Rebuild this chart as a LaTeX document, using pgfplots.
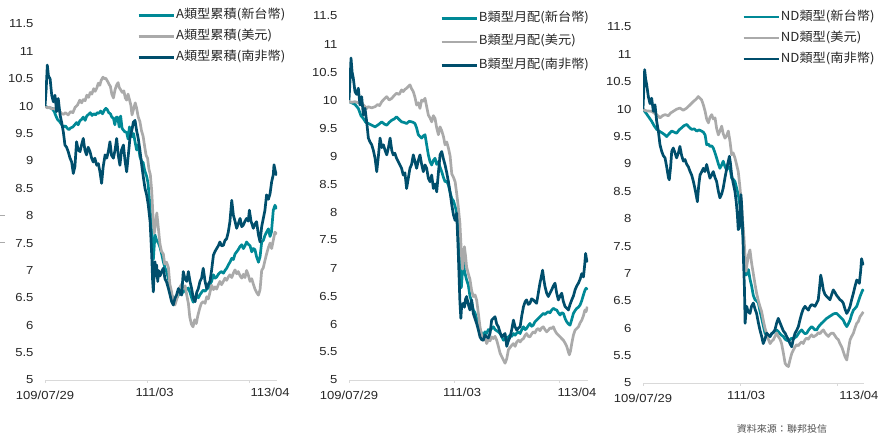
\documentclass[border=0pt]{standalone}
\usepackage{fontspec}
\setmainfont{Liberation Sans}[FakeStretch=1.12]
\newfontfamily\cjk{Noto Sans CJK TC}[FakeStretch=1.06]
\usepackage{pgfplots}
\pgfplotsset{compat=1.18}

\definecolor{cTWD}{RGB}{0,137,150}
\definecolor{cUSD}{RGB}{170,170,170}
\definecolor{cZAR}{RGB}{0,78,108}
\definecolor{axisgray}{RGB}{217,217,217}

\pgfplotsset{
  navpanel/.style={
    scale only axis,
    anchor=south west,
    xmin=0, xmax=100, ymin=5, ymax=11.5,
    axis lines*=left,
    x axis line style={draw=axisgray, line width=0.8bp},
    y axis line style={draw=none},
    ytick distance=0.5,
    ytick style={draw=none},
    xtick={0,44,88},
    xticklabels={109/07/29,,},
    xtick style={draw=axisgray, line width=0.8bp},
    tick align=outside,
    major tick length=3bp,
    extra x tick style={major tick length=0pt},
    extra x tick labels={111/03,113/04},
    /pgf/number format/assume math mode=true,
    tick label style={font=\fontsize{11.7}{13}\selectfont, text=black!85},
    yticklabel style={xshift=-5bp},
    xticklabel style={yshift=-5bp},
    legend cell align=left,
    legend style={draw=none, fill=none, inner sep=0pt,
      font=\cjk\fontsize{12.5}{14}\selectfont, text=black!85,
      nodes={inner sep=1bp, text height=9bp, text depth=3bp}},
    legend image code/.code={\draw[#1] (0bp,0bp) -- (35bp,0bp);},
    every axis plot/.append style={line width=2.7bp, line join=round},
  },
}

\begin{document}
\begin{tikzpicture}
\useasboundingbox (0,0) rectangle (885bp,436bp);

% ---------------- A 類型累積 ----------------
\begin{axis}[navpanel, at={(45bp,56bp)}, width=232bp, height=356bp,
  extra x ticks={47.3,97},
  legend style={at={(0.397,1.045)}, anchor=north west, row sep=7bp}]
\addplot[cTWD] coordinates {
(0,10.00)(1,9.98)(2,9.97)(3,9.96)(4,9.9)(4.7,9.82)(5.5,9.75)(6.3,9.72)(7.2,9.66)(8,9.62)(8.8,9.64)(9.5,9.6)(10.3,9.57)(11,9.6)(12,9.62)(12.8,9.66)(13.6,9.7)(14.3,9.66)(15,9.73)(15.8,9.76)(16.5,9.8)(17.3,9.74)(18,9.82)(18.8,9.85)(19.5,9.88)(20.3,9.83)(21,9.86)(21.8,9.84)(22.5,9.88)(23.2,9.87)(24,9.91)(24.8,9.86)(25.5,9.92)(26.2,9.96)(26.8,9.94)(27.5,9.88)(28.2,9.86)(28.8,9.8)(29.5,9.78)(30.1,9.66)(30.7,9.8)(31.3,9.8)(32,9.62)(32.6,9.82)(33.2,9.6)(33.8,9.56)(34.5,9.53)(35.2,9.52)(35.8,9.4)(36.4,9.62)(37,9.5)(37.6,9.44)(38.2,9.5)(38.8,9.35)(39.5,9.2)(40.2,9.3)(40.9,9.08)(41.6,9.0)(42.3,8.97)(43,8.82)(43.8,8.72)(44.4,8.6)(45,8.3)(45.6,7.95)(46.2,7.5)(46.7,7.2)(47.4,7.65)(48.1,7.55)(48.9,7.5)(49.6,7.42)(50.3,7.3)(51,7.16)(51.7,7.05)(52.4,6.98)(53.2,6.85)(53.9,6.67)(54.6,6.55)(55.3,6.49)(56,6.43)(56.8,6.5)(57.5,6.55)(58.2,6.58)(58.9,6.62)(59.6,6.6)(60.4,6.66)(61.1,6.65)(61.8,6.68)(62.5,6.6)(63.2,6.5)(63.9,6.42)(64.7,6.5)(65.4,6.55)(66.1,6.5)(66.8,6.56)(67.5,6.6)(68.2,6.64)(69,6.62)(69.7,6.66)(70.4,6.68)(71.1,6.75)(71.8,6.8)(72.6,6.92)(73.3,6.86)(74,6.88)(74.7,6.93)(75.4,6.96)(76.1,6.98)(76.9,6.95)(77.6,7.0)(78.3,7.04)(79,7.1)(79.7,7.15)(80.5,7.22)(81.2,7.2)(81.9,7.3)(82.6,7.34)(83.3,7.38)(84.1,7.44)(84.8,7.47)(85.5,7.4)(86.2,7.45)(86.9,7.52)(87.6,7.48)(88.4,7.45)(89.1,7.34)(89.8,7.4)(90.5,7.38)(91.2,7.25)(92,7.15)(92.7,7.25)(93.4,7.52)(94.1,7.55)(94.8,7.64)(95.5,7.7)(96.3,7.76)(97,7.62)(97.6,7.7)(98.4,8.1)(99.1,8.19)(99.9,8.12)
};
\addlegendentry{A類型累積(新台幣)}
\addplot[cUSD] coordinates {
(0,10.00)(1,9.97)(2,9.98)(3,9.95)(4,9.96)(5,9.92)(5.8,9.94)(7,9.87)(8,9.85)(8.8,9.88)(10,9.84)(11,9.9)(12,9.88)(13,9.98)(14,10.02)(15,10.11)(15.8,10.06)(16.5,10.12)(17.3,10.1)(18,10.2)(18.8,10.16)(19.5,10.25)(20.2,10.22)(21,10.32)(21.6,10.27)(22.3,10.33)(23,10.42)(23.6,10.38)(24.2,10.47)(25,10.53)(25.6,10.5)(26.2,10.51)(27,10.45)(27.6,10.4)(28.2,10.36)(28.8,10.22)(29.5,10.15)(30.2,10.3)(30.8,10.38)(31.5,10.43)(32,10.34)(32.6,10.3)(33.3,10.25)(34,10.28)(34.6,10.15)(35.2,10.11)(35.8,10.22)(36.4,10.12)(37,10.02)(37.5,9.84)(38.2,9.95)(38.9,10.06)(39.5,9.96)(40.2,9.8)(40.9,9.72)(41.6,9.55)(42.3,9.45)(43,9.25)(43.6,9.1)(44.2,9.05)(44.8,8.85)(45.4,8.75)(46,8.45)(46.6,7.95)(47.1,7.68)(47.6,7.85)(48.2,8.05)(48.8,7.8)(49.5,7.5)(50.2,7.35)(51,7.3)(51.6,7.12)(52.4,7.15)(53.2,7.05)(53.8,6.75)(54.5,6.62)(55.2,6.45)(56,6.37)(56.8,6.48)(57.5,6.6)(58.2,6.7)(58.9,6.75)(59.6,6.67)(60.4,6.72)(61.1,6.55)(61.8,6.4)(62.4,6.15)(63.1,6.02)(63.8,5.97)(64.5,6.1)(65.2,6.03)(65.9,6.18)(66.7,6.31)(67.4,6.4)(68.2,6.43)(69,6.4)(69.7,6.52)(70.4,6.48)(71.1,6.6)(71.8,6.73)(72.6,6.65)(73.3,6.7)(74,6.66)(74.7,6.74)(75.4,6.8)(76.1,6.74)(76.9,6.8)(77.6,6.86)(78.3,6.82)(79,6.88)(79.7,6.92)(80.5,6.87)(81.2,6.95)(81.9,7.01)(82.6,6.94)(83.3,6.98)(84.1,6.9)(84.8,6.86)(85.5,6.93)(86.2,6.87)(86.9,7.0)(87.6,6.92)(88.4,6.8)(89.1,6.85)(89.8,6.75)(90.5,6.66)(91.2,6.6)(92,6.55)(92.7,6.65)(93.4,7.0)(94.1,7.05)(94.8,7.18)(95.5,7.3)(96.3,7.42)(97,7.5)(97.7,7.4)(98.4,7.55)(99.1,7.7)(99.9,7.66)
};
\addlegendentry{A類型累積(美元)}
\addplot[cZAR] coordinates {
(0,10.0)(0.5,10.3)(1.0,10.75)(1.5,10.55)(2.2,10.5)(2.9,10.2)(3.6,10.08)(4.3,10.2)(5.0,9.9)(5.7,10.14)(6.5,9.84)(7.2,9.7)(7.9,9.53)(8.6,9.29)(9.3,9.25)(10,9.17)(10.8,9.05)(11.5,8.98)(12.2,8.77)(12.9,8.9)(13.6,9.35)(14.3,9.2)(15.1,9.17)(15.8,9.3)(16.5,9.41)(17.2,9.2)(17.9,9.11)(18.6,9.25)(19.4,9.17)(20.1,9.05)(20.8,8.98)(21.5,9.05)(22.3,8.92)(23,8.95)(23.7,8.8)(24.4,8.59)(25.1,8.9)(25.9,9.11)(26.6,9.05)(27.3,9.17)(28,9.35)(28.7,9.1)(29.5,9.05)(30.2,9.2)(30.9,9.41)(31.6,9.1)(32.3,8.92)(33,9.2)(33.8,9.29)(34.5,9.0)(35.2,8.8)(35.9,9.1)(36.6,9.41)(37.4,9.55)(38.1,9.71)(38.8,9.74)(39.5,9.55)(40.2,9.41)(40.9,9.2)(41.7,8.92)(42.4,8.7)(43.1,8.5)(43.8,8.38)(44.5,8.2)(45.3,7.89)(46,7.28)(46.4,6.8)(46.7,6.61)(47.1,7.0)(47.4,7.16)(47.8,6.9)(48.1,7.1)(48.6,6.8)(48.9,7.0)(49.6,6.9)(50.3,6.98)(51,7.04)(51.7,6.85)(52.4,6.79)(53.2,6.67)(53.9,6.55)(54.6,6.43)(55.3,6.37)(56,6.49)(56.7,6.55)(57.5,6.67)(58.2,6.6)(58.9,6.55)(59.6,6.98)(60.3,6.85)(61.1,6.8)(61.8,6.98)(62.5,6.8)(63.2,6.67)(63.9,6.5)(64.7,6.43)(65.4,6.6)(66.1,6.67)(66.8,6.8)(67.5,6.86)(68.2,7.04)(69,6.8)(69.7,6.67)(70.4,6.75)(71.1,6.8)(71.8,7.0)(72.6,7.28)(73.3,7.35)(74,7.4)(74.7,7.45)(75.4,7.52)(76.1,7.45)(76.9,7.46)(77.6,7.55)(78.3,7.58)(79,7.7)(79.7,7.89)(80.5,8.28)(81.2,8.01)(81.9,7.9)(82.6,7.77)(83.3,7.85)(84.1,7.95)(84.8,7.8)(85.5,7.83)(86.2,7.9)(86.9,7.95)(87.6,7.9)(88.1,8.1)(88.8,7.9)(89.8,7.77)(90.5,7.85)(91.2,7.89)(92,7.65)(92.7,7.52)(93.4,7.8)(94.1,7.95)(94.8,8.1)(95.5,8.38)(96.3,8.3)(97,8.4)(97.7,8.62)(98.4,8.75)(98.7,8.93)(99.1,8.85)(99.6,8.75)(99.9,8.8)
};
\addlegendentry{A類型累積(南非幣)}
\end{axis}

% ---------------- B 類型月配 ----------------
\begin{axis}[navpanel, at={(349bp,56bp)}, width=239bp, height=364bp,
  extra x ticks={47.3,95.4},
  legend style={at={(0.381,1.013)}, anchor=north west, row sep=9.5bp}]
\addplot[cTWD] coordinates {
(0,9.97)(1.2,9.95)(2.5,9.92)(3.9,9.85)(5,9.72)(6,9.67)(7,9.6)(8.1,9.58)(9.5,9.55)(10.9,9.52)(12.3,9.56)(13.7,9.61)(14.8,9.57)(15.8,9.55)(16.8,9.6)(17.9,9.64)(18.9,9.66)(19.9,9.7)(21,9.65)(22,9.61)(23,9.6)(24.1,9.58)(25.2,9.62)(26.2,9.61)(26.9,9.6)(27.6,9.58)(28.3,9.5)(29,9.38)(29.7,9.35)(30.4,9.32)(31.1,9.36)(31.8,9.38)(32.5,9.2)(33.2,9.02)(33.9,8.9)(34.6,8.84)(35.3,8.92)(36,8.96)(36.7,8.85)(37.4,8.9)(38.1,8.8)(38.8,8.72)(39.5,8.62)(40.2,8.54)(40.9,8.55)(41.6,8.48)(42.3,8.35)(43,8.24)(43.7,8.2)(44.4,8.1)(45,8.0)(45.7,7.8)(46.4,7.3)(47,6.65)(47.8,7.14)(48.3,6.95)(49.2,6.79)(49.9,6.7)(50.6,6.5)(51.3,6.4)(52,6.25)(52.7,6.2)(53.4,6.1)(54.1,6.02)(54.8,5.9)(55.5,5.83)(56.2,5.8)(56.9,5.86)(57.6,5.83)(58.3,5.9)(59,5.88)(59.7,5.92)(60.4,5.95)(61.1,5.9)(61.8,5.88)(62.5,5.86)(63.2,5.83)(63.9,5.78)(64.6,5.71)(65.3,5.74)(66,5.72)(66.7,5.77)(67.4,5.8)(68.1,5.78)(68.8,5.83)(69.5,5.8)(70.2,5.84)(70.9,5.86)(71.6,5.83)(72.3,5.9)(73,5.95)(73.7,5.9)(74.3,5.92)(75,5.97)(75.7,6.01)(76.4,5.96)(77.1,5.98)(77.8,6.04)(78.5,6.07)(79.2,6.1)(79.9,6.13)(80.6,6.16)(81.3,6.19)(82,6.17)(82.7,6.2)(83.4,6.22)(84.1,6.2)(84.8,6.25)(85.5,6.28)(86.2,6.26)(86.9,6.25)(87.6,6.2)(88.3,6.16)(89,6.2)(89.7,6.19)(90.4,6.1)(91.1,6.04)(91.8,6.0)(92.5,5.98)(93.2,6.08)(93.9,6.19)(94.6,6.24)(95.3,6.28)(96,6.3)(96.7,6.34)(97.4,6.42)(98.1,6.52)(98.7,6.6)(99.2,6.64)(99.7,6.61)
};
\addlegendentry{B類型月配(新台幣)}
\addplot[cUSD] coordinates {
(0,9.97)(1.2,9.96)(2.5,9.97)(3.8,9.95)(5.3,9.94)(6.3,9.9)(7.4,9.85)(8.1,9.88)(9.5,9.86)(10.9,9.88)(12,9.92)(12.8,9.9)(13.7,9.97)(14.8,10.02)(15.8,10.06)(16.8,10.0)(17.9,10.03)(18.9,10.08)(19.9,10.12)(21,10.1)(22,10.18)(22.7,10.15)(23.4,10.19)(24.1,10.21)(24.8,10.24)(25.5,10.27)(26.2,10.2)(26.9,10.15)(27.6,10.05)(28.3,9.91)(29,9.95)(29.7,9.85)(30.4,10.0)(31.1,9.98)(31.8,10.03)(32.5,9.88)(33.2,9.73)(33.9,9.68)(34.6,9.61)(35.3,9.72)(36,9.67)(36.7,9.5)(37.4,9.38)(38.1,9.52)(38.8,9.45)(39.5,9.35)(40.2,9.2)(40.9,9.25)(41.6,9.14)(42.3,9.0)(43,8.68)(43.7,8.62)(44.4,8.54)(45,8.35)(45.7,8.1)(46.4,7.8)(47.1,7.2)(47.5,6.98)(48.3,7.38)(48.8,7.2)(49.2,7.02)(49.9,6.9)(50.6,6.8)(51.3,6.6)(52,6.49)(52.7,6.52)(53.4,6.43)(54.1,6.2)(54.8,5.95)(55.5,5.8)(56.2,5.71)(56.9,5.75)(57.6,5.65)(58.3,5.72)(59,5.7)(59.7,5.77)(60.4,5.74)(61.1,5.78)(61.8,5.71)(62.5,5.6)(63.2,5.48)(63.9,5.42)(64.6,5.36)(65.3,5.3)(66,5.38)(66.7,5.54)(67.4,5.58)(68.1,5.62)(68.8,5.65)(69.5,5.6)(70.2,5.68)(70.9,5.71)(71.6,5.68)(72.3,5.72)(73,5.74)(73.7,5.8)(74.3,5.83)(75,5.78)(75.7,5.77)(76.4,5.82)(77.1,5.86)(77.8,5.84)(78.5,5.9)(79.2,5.92)(79.9,5.88)(80.6,5.93)(81.3,5.95)(82,5.9)(82.7,5.86)(83.4,5.89)(84.1,5.93)(84.8,5.92)(85.5,5.95)(86.2,5.88)(86.9,5.83)(87.6,5.8)(88.3,5.77)(89,5.74)(89.7,5.71)(90.4,5.66)(91.1,5.6)(91.8,5.5)(92.2,5.45)(92.7,5.52)(93.2,5.65)(93.9,5.8)(94.6,5.89)(95.3,5.92)(96,5.95)(96.7,6.02)(97.4,6.07)(98.1,6.15)(98.7,6.25)(99.2,6.22)(99.7,6.31)
};
\addlegendentry{B類型月配(美元)}
\addplot[cZAR] coordinates {
(0,10.0)(0.5,10.4)(0.84,10.75)(1.3,10.5)(1.8,10.39)(2.5,10.15)(3.2,10.1)(3.9,10.21)(4.6,9.91)(5.3,10.06)(6,9.73)(6.7,9.85)(7.4,9.61)(8.1,9.32)(8.8,9.25)(9.5,9.2)(10.2,9.1)(10.9,8.96)(11.6,8.72)(12.3,9.0)(13,9.32)(13.7,9.15)(14.4,9.2)(15.1,9.1)(15.8,9.02)(16.5,9.15)(17.2,9.32)(17.9,9.1)(18.5,9.02)(19.2,9.05)(19.9,8.96)(20.6,8.9)(21.3,8.84)(22,8.78)(22.7,8.66)(23.4,8.7)(24.1,8.42)(24.8,8.6)(25.5,8.78)(26.2,8.85)(26.9,9.02)(27.6,8.9)(28.3,8.78)(29,8.92)(29.7,9.02)(30.4,8.85)(31.1,8.72)(31.8,8.84)(32.5,8.78)(33.2,8.6)(33.9,8.54)(34.6,8.66)(35.3,8.42)(36,8.5)(36.7,8.36)(37.4,8.7)(38.1,9.02)(38.8,9.08)(39.5,8.95)(40.2,8.84)(40.9,8.7)(41.6,8.54)(42.3,8.35)(43,8.13)(43.7,7.95)(44.4,7.85)(45.05,7.98)(45.7,7.3)(46.4,6.4)(46.8,6.1)(47.1,6.3)(47.8,6.37)(48.3,6.3)(48.8,6.45)(49.2,6.49)(49.9,6.35)(50.6,6.25)(51.3,6.43)(52,6.19)(52.7,6.1)(53.4,6.01)(54.1,5.9)(54.8,5.77)(55.5,5.72)(56.2,5.71)(56.9,5.8)(57.6,5.77)(58.3,5.75)(59,5.83)(59.7,6.07)(60.4,6.1)(61.1,6.13)(61.8,6.0)(62.5,5.95)(63.2,5.85)(63.9,5.77)(64.6,5.8)(65.3,5.83)(66,5.6)(66.7,5.7)(67.4,5.77)(68.1,5.9)(68.8,6.07)(69.5,5.95)(70.2,5.89)(70.9,5.93)(71.6,5.95)(72.3,6.15)(73,6.31)(73.7,6.4)(74.3,6.43)(75,6.35)(75.7,6.37)(76.4,6.45)(77.1,6.43)(77.8,6.4)(78.5,6.37)(79.2,6.55)(79.9,6.73)(80.5,6.85)(81,6.96)(81.5,6.8)(82,6.67)(82.7,6.55)(83.4,6.49)(84.1,6.55)(84.8,6.61)(85.5,6.68)(86.2,6.73)(86.9,6.55)(87.6,6.43)(88.3,6.5)(89,6.55)(89.7,6.4)(90.4,6.31)(91.1,6.28)(91.8,6.25)(92.5,6.35)(93.2,6.43)(93.9,6.5)(94.6,6.61)(95.3,6.68)(96,6.73)(96.7,6.8)(97.4,6.9)(98.1,6.84)(98.6,7.05)(99,7.26)(99.4,7.15)(99.7,7.1)
};
\addlegendentry{B類型月配(南非幣)}
\end{axis}

% ---------------- ND 類型 ----------------
\begin{axis}[navpanel, at={(643bp,53bp)}, width=221bp, height=356bp,
  extra x ticks={46.7,97.7},
  legend style={at={(0.448,1.048)}, anchor=north west, row sep=7bp}]
\addplot[cTWD] coordinates {
(0,10.0)(1.5,9.92)(2.7,9.85)(3.9,9.78)(5,9.7)(6.2,9.63)(7.3,9.6)(8.5,9.57)(9.6,9.54)(10.7,9.5)(11.8,9.55)(13,9.6)(14.1,9.58)(15.2,9.56)(16.3,9.62)(17.5,9.66)(18.6,9.7)(19.8,9.72)(20.9,9.67)(22,9.63)(23.2,9.64)(24.3,9.6)(25.4,9.62)(26.5,9.6)(27.3,9.58)(28.1,9.53)(28.8,9.35)(29.6,9.36)(30.3,9.32)(31.1,9.33)(31.8,9.29)(32.6,9.2)(33.3,9.11)(34.1,9.0)(34.8,8.92)(35.6,8.98)(36.3,9.05)(37.1,8.95)(37.9,8.89)(38.6,8.95)(39.4,8.92)(40.1,8.74)(40.8,8.72)(41.6,8.68)(42.4,8.55)(43.1,8.44)(43.8,8.25)(44.6,8.01)(45.1,7.75)(45.7,7.46)(46.2,7.15)(46.6,6.97)(47.1,7.0)(47.7,7.07)(48.4,6.9)(49.2,6.76)(49.9,6.6)(50.7,6.52)(51.4,6.5)(52.2,6.46)(52.9,6.32)(53.7,6.18)(54.4,6.05)(55.2,5.91)(55.9,5.88)(56.7,5.84)(57.5,5.85)(58.2,5.9)(59,5.92)(59.7,5.95)(60.5,5.97)(61.2,5.94)(62,5.9)(62.7,5.87)(63.5,5.85)(64.3,5.8)(65,5.78)(65.8,5.77)(66.5,5.79)(67.3,5.82)(68,5.8)(68.8,5.83)(69.5,5.85)(70.3,5.9)(71,5.94)(71.8,5.97)(72.5,5.93)(73.3,5.9)(74.1,5.91)(74.8,5.96)(75.6,6.0)(76.3,6.03)(77.1,6.0)(77.8,5.97)(78.6,5.97)(79.3,6.02)(80.1,6.06)(80.8,6.09)(81.6,6.12)(82.3,6.15)(83.1,6.18)(83.9,6.2)(84.6,6.22)(85.4,6.24)(86.1,6.26)(86.9,6.27)(87.6,6.27)(88.4,6.24)(89.1,6.21)(89.9,6.18)(90.6,6.15)(91.4,6.08)(92.2,6.03)(92.9,6.08)(93.7,6.15)(94.4,6.25)(95.2,6.33)(95.9,6.36)(96.7,6.4)(97.4,6.48)(98.2,6.58)(98.9,6.65)(99.4,6.7)(99.7,6.67)
};
\addlegendentry{ND類型(新台幣)}
\addplot[cUSD] coordinates {
(0,9.99)(1.5,9.97)(3.9,9.96)(5,9.93)(6.2,9.9)(7.7,9.84)(8.8,9.88)(10,9.9)(11.5,9.88)(12.5,9.93)(13.7,9.96)(15.2,10.0)(16.7,10.02)(18.2,9.98)(19.8,10.02)(21.3,10.08)(22.8,10.14)(24,10.18)(25,10.23)(25.8,10.2)(26.5,10.17)(27.3,10.08)(28.1,9.96)(28.8,9.82)(29.6,9.75)(30.3,9.85)(31.1,9.9)(31.8,9.82)(32.6,9.84)(33.3,9.65)(34.1,9.53)(34.8,9.6)(35.6,9.69)(36.3,9.55)(37.1,9.47)(37.9,9.52)(38.6,9.6)(39.4,9.4)(40.1,9.17)(40.8,9.2)(41.6,9.11)(42.4,8.98)(43.1,8.86)(43.8,8.6)(44.6,8.25)(45.1,7.95)(45.7,7.65)(46.2,7.3)(46.6,7.04)(47.2,7.2)(47.7,7.34)(48.4,7.43)(49.1,7.2)(49.9,7.0)(50.7,6.8)(51.4,6.64)(52.2,6.5)(52.9,6.4)(53.7,6.3)(54.4,6.15)(55.2,6.0)(55.9,5.91)(56.7,5.8)(57.5,5.72)(58.2,5.76)(59,5.79)(59.7,5.85)(60.5,5.91)(61.2,5.85)(62,5.8)(62.7,5.72)(63.5,5.55)(64.3,5.36)(65,5.32)(65.8,5.3)(66.5,5.42)(67.3,5.54)(68,5.6)(68.8,5.66)(69.5,5.7)(70.3,5.68)(71,5.72)(71.8,5.75)(72.5,5.72)(73.3,5.79)(74.1,5.82)(74.8,5.8)(75.6,5.85)(76.3,5.88)(77.1,5.84)(77.8,5.86)(78.6,5.88)(79.3,5.92)(80.1,5.9)(80.8,5.94)(81.6,5.97)(82.3,5.92)(83.1,5.88)(83.9,5.85)(84.6,5.89)(85.4,5.91)(86.1,5.91)(86.9,5.86)(87.6,5.82)(88.4,5.79)(89.1,5.72)(89.9,5.66)(90.6,5.58)(91.4,5.48)(92.2,5.42)(92.9,5.6)(93.7,5.79)(94.4,5.85)(95.2,5.91)(95.9,6.0)(96.7,6.09)(97.4,6.12)(98.2,6.21)(98.9,6.25)(99.7,6.3)
};
\addlegendentry{ND類型(美元)}
\addplot[cZAR] coordinates {
(0,10.0)(0.4,10.4)(0.75,10.72)(1.2,10.55)(1.66,10.45)(2.41,10.23)(3.17,10.1)(3.92,10.2)(4.68,9.96)(5.43,10.08)(6.18,9.78)(6.94,9.6)(7.69,9.35)(8.45,9.23)(9.2,9.15)(9.96,9.11)(10.7,8.95)(11.5,8.75)(11.9,8.71)(12.5,8.95)(13,9.23)(13.7,9.29)(14.5,9.2)(15.2,9.11)(16,9.2)(16.7,9.32)(17.5,9.15)(18.3,9.05)(19,9.08)(19.8,8.99)(20.5,8.95)(21.3,8.86)(22,8.8)(22.8,8.68)(23.5,8.55)(24.3,8.38)(24.6,8.31)(25.2,8.6)(25.8,8.8)(26.5,8.85)(27.3,8.92)(28,8.86)(28.8,8.99)(29.6,8.85)(30.3,8.74)(31.1,8.8)(31.8,8.86)(32.6,8.75)(33.3,8.68)(34.1,8.5)(34.8,8.38)(35.6,8.45)(36.3,8.56)(37.1,8.75)(37.9,8.92)(38.6,9.05)(39.1,9.14)(39.6,9.0)(40.1,8.8)(40.8,8.65)(41.6,8.5)(42.2,8.3)(42.7,8.07)(43.1,7.8)(43.6,7.83)(44,8.2)(44.3,8.44)(44.6,8.28)(45.1,7.83)(45.5,7.2)(45.9,6.73)(46.2,6.09)(46.6,6.3)(46.9,6.4)(47.6,6.3)(48.4,6.27)(49.1,6.4)(49.9,6.46)(50.7,6.35)(51.4,6.27)(52.2,6.1)(52.9,5.97)(53.7,5.85)(54.4,5.72)(55.2,5.8)(55.9,5.91)(56.7,5.88)(57.5,5.85)(58.2,5.9)(59,5.93)(59.7,5.97)(60.5,6.1)(61.2,6.18)(62,6.1)(62.7,6.03)(63.5,5.95)(64.3,5.91)(65,5.85)(65.8,5.79)(66.5,5.72)(67.3,5.66)(68,5.8)(68.8,5.91)(69.5,5.96)(70.3,6.03)(71,6.15)(71.8,6.27)(72.5,6.35)(73.3,6.4)(74.1,6.36)(74.8,6.33)(75.6,6.4)(76.3,6.43)(77.1,6.42)(77.8,6.4)(78.6,6.46)(79.3,6.52)(79.9,6.75)(80.4,6.97)(81,6.85)(81.6,6.7)(82.3,6.62)(83.1,6.58)(83.9,6.55)(84.6,6.52)(85.4,6.62)(86.1,6.7)(86.9,6.65)(87.6,6.6)(88.4,6.56)(89.1,6.52)(89.9,6.5)(90.6,6.46)(91.4,6.35)(92.2,6.27)(92.9,6.32)(93.7,6.4)(94.4,6.52)(95.2,6.64)(95.9,6.76)(96.7,6.88)(97.3,6.85)(97.9,6.82)(98.5,7.05)(98.9,7.27)(99.3,7.2)(99.7,7.15)
};
\addlegendentry{ND類型(南非幣)}
\end{axis}

% stray marks at the left edge and the source note
\draw[cUSD, line width=1bp] (0bp,220bp) -- (5bp,220bp);
\draw[cUSD, line width=1bp] (0bp,193bp) -- (5bp,193bp);
\node[font=\cjk\fontsize{9.5}{11}\selectfont, text=black!70] at (782bp,7bp) {資料來源：聯邦投信};
\end{tikzpicture}
\end{document}
